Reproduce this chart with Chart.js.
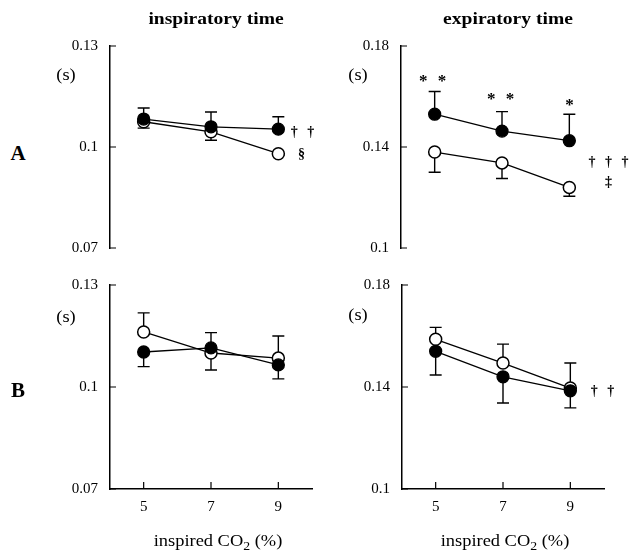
<!DOCTYPE html>
<html>
<head>
<meta charset="utf-8">
<script src="https://cdn.jsdelivr.net/npm/chart.js@4.4.1/dist/chart.umd.min.js"></script>
<style>
  body { margin: 0; background: #fff; }
  #wrap { position: relative; width: 642px; height: 555px; font-family: "Liberation Serif", serif; color: #000; }
  canvas { position: absolute; }
  .t { position: absolute; white-space: nowrap; transform: translate(-50%, -50%) scaleX(1.15); line-height: 1; }
  .title { font-weight: bold; font-size: 17px; }
  .panel { font-weight: bold; font-size: 21px; transform: translate(-50%, -50%); }
  .unit { font-size: 16px; }
  .xt { font-size: 16px; }
  .xt sub { font-size: 12px; vertical-align: -4px; }
  .mark { font-size: 14px; font-weight: bold; letter-spacing: 3px; transform: translate(-50%, -50%); }
  .star { font-size: 17px; font-weight: bold; letter-spacing: 3px; transform: translate(-50%, -50%); }
</style>
</head>
<body>
<div id="wrap">
  <canvas id="aInsp" width="300" height="244" style="left:30px;top:25px"></canvas>
  <canvas id="aExp" width="300" height="244" style="left:321px;top:25px"></canvas>
  <canvas id="bInsp" width="300" height="265" style="left:30px;top:264px"></canvas>
  <canvas id="bExp" width="300" height="265" style="left:322px;top:264px"></canvas>

  <div class="t title" style="left:216px;top:18px">inspiratory time</div>
  <div class="t title" style="left:508px;top:18px">expiratory time</div>
  <div class="t panel" style="left:18px;top:153px">A</div>
  <div class="t panel" style="left:18px;top:390px">B</div>
  <div class="t unit" style="left:66px;top:75px">(s)</div>
  <div class="t unit" style="left:358px;top:75px">(s)</div>
  <div class="t unit" style="left:66px;top:317px">(s)</div>
  <div class="t unit" style="left:358px;top:315px">(s)</div>
  <div class="t xt" style="left:218px;top:542px">inspired CO<sub>2</sub> (%)</div>
  <div class="t xt" style="left:505px;top:542px">inspired CO<sub>2</sub> (%)</div>

  <div class="t mark" style="left:304px;top:132px">† †</div>
  <div class="t mark" style="left:303px;top:154px">§</div>
  <div class="t star" style="left:434px;top:80px">* *</div>
  <div class="t star" style="left:502px;top:98px">* *</div>
  <div class="t star" style="left:571px;top:104px">*</div>
  <div class="t mark" style="left:610px;top:162px">† † †</div>
  <div class="t mark" style="left:610px;top:182px">‡</div>
  <div class="t mark" style="left:604px;top:391px">† †</div>
</div>
<script>
const co2 = [5, 7, 9];
const xTicks = [5, 7, 9];
const inspTicks = [0.07, 0.1, 0.13];
const expTicks = [0.1, 0.14, 0.18];

// A, inspiratory time
const aInspFilled = [0.1083, 0.1060, 0.1053];
const aInspFilledErr = [0.1116, 0.1104, 0.1090];
const aInspOpen = [0.1075, 0.1045, 0.0980];
const aInspOpenErr = [0.1056, 0.1020, 0.0975];

// A, expiratory time
const aExpFilled = [0.1530, 0.1463, 0.1425];
const aExpFilledErr = [0.1620, 0.1540, 0.1530];
const aExpOpen = [0.1380, 0.1337, 0.1240];
const aExpOpenErr = [0.1300, 0.1275, 0.1205];

// B, inspiratory time
const bInspFilled = [0.1103, 0.1115, 0.1065];
const bInspFilledErr = [0.1060, 0.1160, 0.1024];
const bInspOpen = [0.1162, 0.1100, 0.1085];
const bInspOpenErr = [0.1218, 0.1050, 0.1150];

// B, expiratory time
const bExpFilled = [0.1540, 0.1440, 0.1385];
const bExpFilledErr = [0.1447, 0.1337, 0.1318];
const bExpOpen = [0.1587, 0.1494, 0.1396];
const bExpOpenErr = [0.1634, 0.1568, 0.1494];

const errorBars = {
  id: "errorBars",
  beforeDatasetsDraw(chart) {
    const ctx = chart.ctx;
    const xs = chart.scales.x, ys = chart.scales.y;
    ctx.save();
    ctx.strokeStyle = "#000";
    ctx.lineWidth = 1.4;
    chart.data.datasets.forEach(ds => {
      ds.data.forEach((p, i) => {
        const px = xs.getPixelForValue(p.x);
        const py = ys.getPixelForValue(p.y);
        const ey = ys.getPixelForValue(ds.errEnds[i]);
        ctx.beginPath();
        ctx.moveTo(px, py);
        ctx.lineTo(px, ey);
        ctx.moveTo(px - 6, ey);
        ctx.lineTo(px + 6, ey);
        ctx.stroke();
      });
    });
    ctx.restore();
  }
};

const inwardTicks = {
  id: "inwardTicks",
  afterDraw(chart) {
    const ctx = chart.ctx;
    const a = chart.chartArea;
    const xs = chart.scales.x, ys = chart.scales.y;
    ctx.save();
    ctx.strokeStyle = "#000";
    ctx.lineWidth = 1.2;
    ctx.beginPath();
    ys.ticks.forEach(t => {
      const y = ys.getPixelForValue(t.value);
      ctx.moveTo(a.left, y);
      ctx.lineTo(a.left + 6, y);
    });
    if (xs.options.display) {
      xs.ticks.forEach(t => {
        const x = xs.getPixelForValue(t.value);
        ctx.moveTo(x, a.bottom);
        ctx.lineTo(x, a.bottom - 7);
      });
    }
    ctx.stroke();
    ctx.restore();
  }
};

function pts(values) {
  return values.map((v, i) => ({ x: co2[i], y: v }));
}

function makePanel(id, filled, filledErr, open, openErr, yTicks, showX) {
  const tickFont = { family: "Liberation Serif", size: 15 };
  return new Chart(document.getElementById(id), {
    type: "line",
    data: {
      datasets: [
        {
          data: pts(filled),
          errEnds: filledErr,
          borderColor: "#000",
          borderWidth: 1.3,
          backgroundColor: "#000",
          pointRadius: 6,
          pointBorderColor: "#000",
          pointBackgroundColor: "#000",
          tension: 0,
        },
        {
          data: pts(open),
          errEnds: openErr,
          borderColor: "#000",
          borderWidth: 1.3,
          pointRadius: 6,
          pointBorderWidth: 1.5,
          pointBorderColor: "#000",
          pointBackgroundColor: "#fff",
          tension: 0,
        },
      ],
    },
    options: {
      responsive: false,
      animation: false,
      layout: { padding: { top: 10, right: 18, bottom: showX ? 0 : 13, left: 0 } },
      plugins: { legend: { display: false }, tooltip: { enabled: false } },
      scales: {
        x: {
          type: "linear",
          min: 4,
          max: 10,
          display: showX,
          afterBuildTicks: s => { s.ticks = xTicks.map(v => ({ value: v })); },
          afterFit: s => { s.height = showX ? 40 : 0; },
          grid: { drawOnChartArea: false, drawTicks: false },
          border: { color: "#000", width: 1.5 },
          ticks: { color: "#000", font: tickFont, padding: 9 },
        },
        y: {
          min: yTicks[0],
          max: yTicks[2],
          afterBuildTicks: s => { s.ticks = yTicks.map(v => ({ value: v })); },
          afterFit: s => { s.width = 80; },
          grid: { drawOnChartArea: false, drawTicks: false },
          border: { color: "#000", width: 1.5 },
          ticks: { color: "#000", font: tickFont, padding: 12, callback: v => String(v) },
        },
      },
    },
    plugins: [errorBars, inwardTicks],
  });
}

makePanel("aInsp", aInspFilled, aInspFilledErr, aInspOpen, aInspOpenErr, inspTicks, false);
makePanel("aExp", aExpFilled, aExpFilledErr, aExpOpen, aExpOpenErr, expTicks, false);
makePanel("bInsp", bInspFilled, bInspFilledErr, bInspOpen, bInspOpenErr, inspTicks, true);
makePanel("bExp", bExpFilled, bExpFilledErr, bExpOpen, bExpOpenErr, expTicks, true);
</script>
</body>
</html>
